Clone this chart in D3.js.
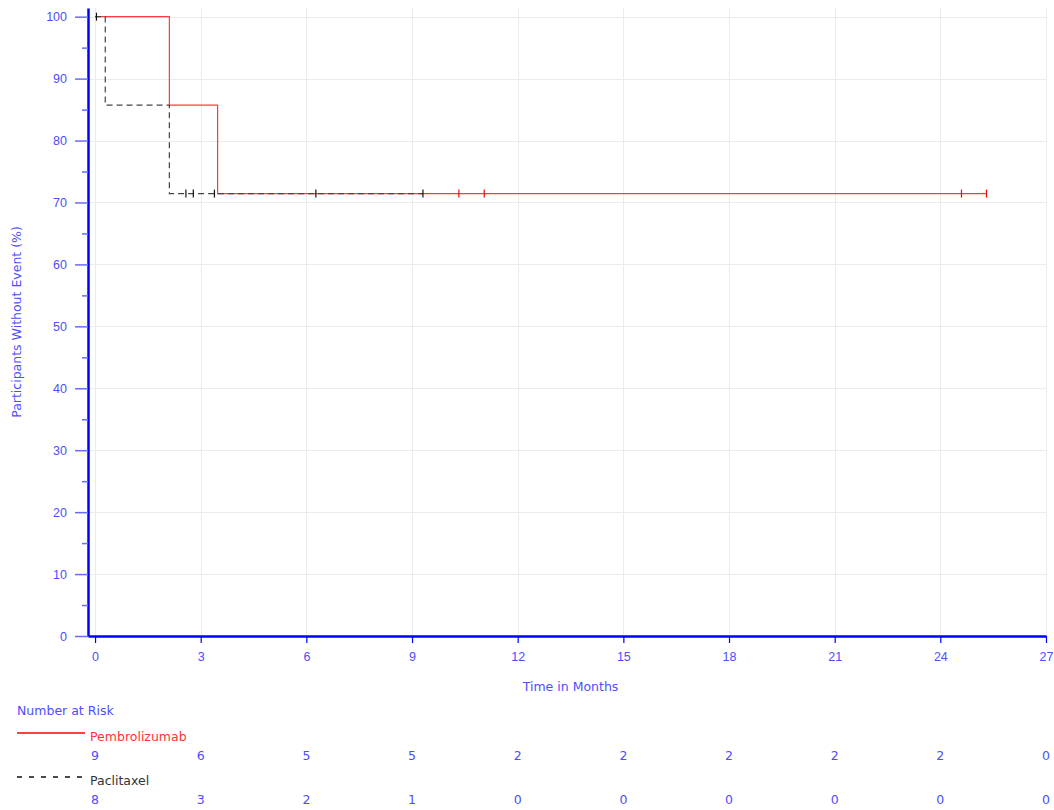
<!DOCTYPE html>
<html>
<head>
<meta charset="utf-8">
<script src="https://cdn.jsdelivr.net/npm/d3@7"></script>
<style>
  body { margin: 0; background: #fff; }
  svg { font-family: "DejaVu Sans", sans-serif; }
</style>
</head>
<body>
<div id="chart"></div>
<script>
// ---- data ----
const timeTicks = [0, 3, 6, 9, 12, 15, 18, 21, 24, 27];
const survTicks = [0, 10, 20, 30, 40, 50, 60, 70, 80, 90, 100];
const survMinor = [5, 15, 25, 35, 45, 55, 65, 75, 85, 95];

const pembroTimes = [0, 2.11, 3.48];
const pembroSurv = [100, 85.71, 71.43];
const pembroEnd = 25.31;
const pembroCensor = [10.33, 11.05, 24.6, 25.31];
const pembroAtRisk = [9, 6, 5, 5, 2, 2, 2, 2, 2, 0];

const paclTimes = [0, 0.29, 2.11];
const paclSurv = [100, 85.71, 71.43];
const paclEnd = 9.31;
const paclCensor = [0.04, 2.58, 2.79, 3.39, 6.27, 9.31];
const paclAtRisk = [8, 3, 2, 1, 0, 0, 0, 0, 0, 0];

const groups = [
  { name: "Pembrolizumab", times: pembroTimes, surv: pembroSurv, end: pembroEnd,
    censor: pembroCensor, atRisk: pembroAtRisk, color: "#ff3b3b", mark: "#ff0000", text: "#ff3333", dash: null, legendDash: null },
  { name: "Paclitaxel", times: paclTimes, surv: paclSurv, end: paclEnd,
    censor: paclCensor, atRisk: paclAtRisk, color: "#444", mark: "#111", text: "#333", dash: "6,4", legendDash: "5,7" }
];

// ---- layout ----
const W = 1054, H = 810;
const axisBlue = "#0000ff", labelBlue = "#4d4dff", tickBlue = "#6a6aff";

const svg = d3.select("#chart").append("svg")
  .attr("width", W).attr("height", H);

const x = d3.scaleLinear().domain([-0.2, 27]).range([88, 1046]);
const y = d3.scaleLinear().domain([0, 101.4]).range([636, 8]);

// survival value at time t for step function
function survAt(g, t) {
  let s = g.surv[0];
  g.times.forEach((tt, i) => { if (tt <= t) s = g.surv[i]; });
  return s;
}

// grid
svg.append("g").selectAll("line").data(timeTicks).join("line")
  .attr("x1", d => Math.round(x(d)) + 0.5).attr("x2", d => Math.round(x(d)) + 0.5)
  .attr("y1", y.range()[1]).attr("y2", y(0))
  .attr("stroke", "#ebebeb");
svg.append("g").selectAll("line").data(survTicks.slice(1)).join("line")
  .attr("x1", x.range()[0]).attr("x2", x.range()[1])
  .attr("y1", d => Math.round(y(d)) + 0.5).attr("y2", d => Math.round(y(d)) + 0.5)
  .attr("stroke", "#ebebeb");

// curves
const line = d3.line().x(d => x(d[0])).y(d => y(d[1])).curve(d3.curveStepAfter);

groups.forEach(g => {
  const pts = g.times.map((t, i) => [t, g.surv[i]]);
  pts.push([g.end, g.surv[g.surv.length - 1]]);
  svg.append("path")
    .attr("d", line(pts))
    .attr("fill", "none")
    .attr("stroke", g.color)
    .attr("stroke-width", 1.2)
    .attr("stroke-dasharray", g.dash);

  svg.append("g").selectAll("line").data(g.censor).join("line")
    .attr("x1", d => x(d)).attr("x2", d => x(d))
    .attr("y1", d => y(survAt(g, d)) - 4).attr("y2", d => y(survAt(g, d)) + 4)
    .attr("stroke", g.mark)
    .attr("stroke-width", 1.2);
});

// y axis
const yAxis = svg.append("g").attr("transform", `translate(${x.range()[0]},0)`);
yAxis.call(d3.axisLeft(y).tickValues(survTicks).tickSize(13).tickPadding(8).tickSizeOuter(0));
yAxis.append("g").call(d3.axisLeft(y).tickValues(survMinor).tickSize(6).tickFormat(""))
  .select(".domain").remove();
yAxis.selectAll(".tick line").attr("stroke", tickBlue).attr("stroke-width", 1.5);
yAxis.selectAll(".tick text").attr("fill", labelBlue).style("font-size", "12.5px");
yAxis.select(".domain").attr("stroke", axisBlue).attr("stroke-width", 2.5);

// x axis
const xAxis = svg.append("g").attr("transform", `translate(0,${y(0)})`);
xAxis.call(d3.axisBottom(x).tickValues(timeTicks).tickSize(7).tickPadding(9).tickSizeOuter(0));
xAxis.selectAll(".tick line").attr("stroke", axisBlue).attr("stroke-width", 1.2);
xAxis.selectAll(".tick text").attr("fill", labelBlue).style("font-size", "12.5px");
xAxis.select(".domain").attr("stroke", axisBlue).attr("stroke-width", 2.5);

// axis titles
svg.append("text")
  .attr("x", (x(0) + x(27)) / 2).attr("y", 691)
  .attr("text-anchor", "middle").attr("fill", labelBlue)
  .style("font-size", "12.5px").text("Time in Months");
svg.append("text")
  .attr("transform", "translate(21,322) rotate(-90)")
  .attr("text-anchor", "middle").attr("fill", labelBlue)
  .style("font-size", "12.5px").text("Participants Without Event (%)");

// number at risk
svg.append("text").attr("x", 17).attr("y", 715)
  .attr("fill", labelBlue).style("font-size", "12.5px").text("Number at Risk");

const rowY = [733, 777];
groups.forEach((g, gi) => {
  const ly = rowY[gi];
  const key = svg.append("line")
    .attr("x1", 17).attr("x2", 85).attr("y1", ly).attr("y2", ly)
    .style("stroke", g.mark)
    .style("stroke-width", 1.3);
  if (g.legendDash) key.style("stroke-dasharray", g.legendDash);
  svg.append("text").attr("x", 90).attr("y", ly + 7.5)
    .attr("fill", g.text).style("font-size", "12.5px").text(g.name);
  svg.append("g").selectAll("text").data(g.atRisk).join("text")
    .attr("x", (d, i) => x(timeTicks[i]))
    .attr("y", ly + 26.5)
    .attr("text-anchor", "middle")
    .attr("fill", labelBlue).style("font-size", "12.5px")
    .text(d => d);
});
</script>
</body>
</html>
